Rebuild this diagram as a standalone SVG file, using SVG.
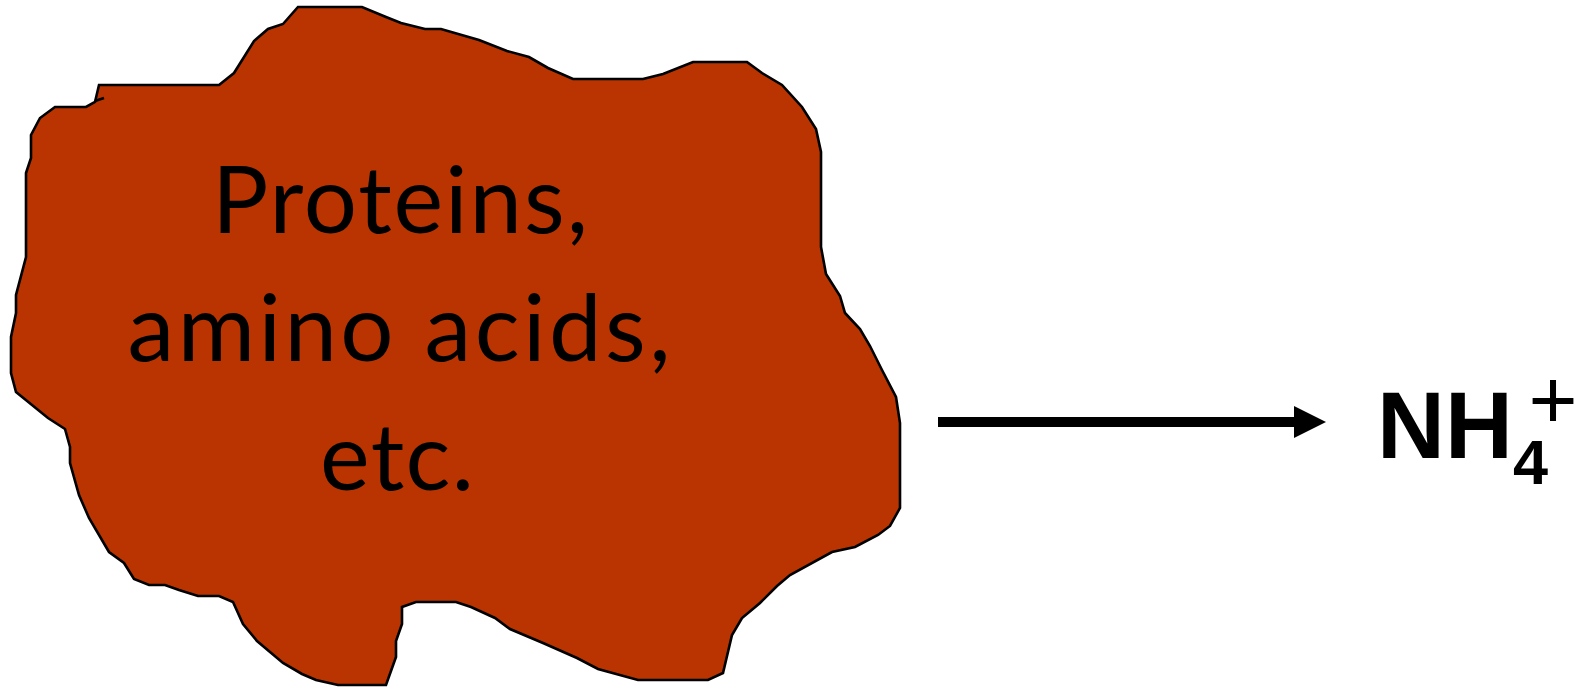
<svg xmlns="http://www.w3.org/2000/svg" width="1588" height="693" viewBox="0 0 1588 693">
<style>
.blob{fill:#B93400;stroke:#000;stroke-width:2.6;stroke-linejoin:miter}
.lbl{font-family:Lato,"Open Sans","Liberation Sans",sans-serif;font-size:94px;fill:#000;text-anchor:middle}
.chem{font-family:"Liberation Sans",Arial,sans-serif;font-weight:bold;fill:#000}
.conn{stroke:#000;stroke-width:10;fill:none}
</style>
<defs>
<marker id="ah" markerUnits="userSpaceOnUse" markerWidth="34" markerHeight="34" refX="0" refY="16" orient="auto" viewBox="0 0 34 32">
<path d="M0,0 L32,16 L0,32 Z" fill="#000"/>
</marker>
</defs>
<g id="organic-matter">
<polygon class="blob" points="298,7 362,7 386,17 401,23 425,29 441,29 479,40 507,51 529,57 548,68 573,79 643,79 663,74 693,62 747,62 762,73 782,85 802,107 816,129 821,152 821,247 826,274 840,296 845,313 860,329 870,346 882,370 896,397 900,423 900,508 890,526 878,535 855,547 832,552 790,575 777,586 760,603 742,618 732,635 723,673 708,680 638,680 598,669 577,658 543,643 510,629 495,618 471,607 456,602 416,602 402,607 402,624 396,641 396,657 386,685 338,685 316,680 302,674 283,663 257,641 243,624 233,602 219,596 198,596 179,590 165,585 149,585 134,579 124,563 109,552 89,518 79,495 70,463 70,447 65,429 48,418 16,392 11,373 11,337 16,313 16,295 26,257 26,173 31,158 31,135 40,118 55,107 86,107 95,102 99,85 219,85 234,73 254,41 268,29 283,24"/>
<line x1="95" y1="101" x2="104" y2="98" stroke="#000" stroke-width="2.6"/>
<text class="lbl" x="400" y="233" textLength="376">Proteins,</text>
<text class="lbl" x="399" y="361" textLength="543">amino acids,</text>
<text class="lbl" x="397" y="490" textLength="154">etc.</text>
</g>
<g id="connectors">
<line class="conn" x1="938" y1="422" x2="1294" y2="422" marker-end="url(#ah)"/>
</g>
<g id="ammonium">
<text class="chem"><tspan x="1377" y="458" font-size="94">NH</tspan><tspan x="1513" y="484" font-size="63">4</tspan><tspan x="1553" y="428" font-size="84" font-weight="normal" text-anchor="middle">+</tspan></text>
</g>
</svg>
